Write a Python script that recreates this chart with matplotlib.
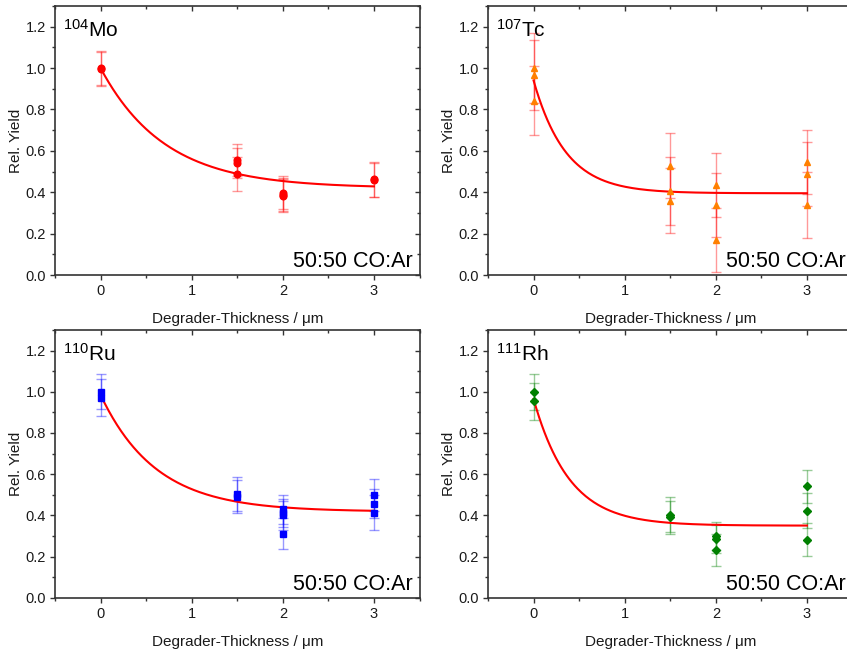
import numpy as np
import matplotlib
matplotlib.use('Agg')
import matplotlib.pyplot as plt
from matplotlib.ticker import MultipleLocator, FormatStrFormatter

plt.rcParams['font.family'] = ['Liberation Sans', 'DejaVu Sans']
plt.rcParams['mathtext.fontset'] = 'custom'
plt.rcParams['mathtext.rm'] = 'Liberation Sans'
plt.rcParams['mathtext.it'] = 'Liberation Sans:italic'

# Measured relative yields (x = degrader thickness in um)
mo_x = [0, 0, 1.5, 1.5, 1.5, 2, 2, 2, 3, 3]
mo_y = [1.0, 0.995, 0.557, 0.541, 0.488, 0.398, 0.388, 0.383, 0.462, 0.458]
mo_err = [0.083, 0.083, 0.077, 0.072, 0.083, 0.08, 0.08, 0.08, 0.083, 0.083]

tc_x = [0, 0, 0, 1.5, 1.5, 1.5, 2, 2, 2, 3, 3, 3]
tc_y = [1.0, 0.968, 0.843, 0.529, 0.407, 0.36, 0.434, 0.34, 0.17, 0.546, 0.489, 0.338]
tc_err = [0.17, 0.17, 0.168, 0.158, 0.163, 0.155, 0.155, 0.155, 0.155, 0.155, 0.155, 0.16]

ru_x = [0, 0, 1.5, 1.5, 2, 2, 2, 2, 3, 3, 3]
ru_y = [1.0, 0.97, 0.502, 0.49, 0.43, 0.413, 0.40, 0.31, 0.497, 0.457, 0.413]
ru_err = [0.085, 0.09, 0.083, 0.08, 0.07, 0.068, 0.07, 0.075, 0.078, 0.072, 0.084]

rh_x = [0, 0, 1.5, 1.5, 2, 2, 2, 3, 3, 3]
rh_y = [1.0, 0.954, 0.402, 0.39, 0.30, 0.285, 0.232, 0.541, 0.423, 0.282]
rh_err = [0.088, 0.09, 0.085, 0.08, 0.066, 0.07, 0.078, 0.08, 0.085, 0.08]

# Exponential fit parameters: y = y0 + A * exp(-x / t)
mo_fit = (0.42, 0.58, 0.705)
tc_fit = (0.395, 0.545, 0.352)
ru_fit = (0.418, 0.567, 0.607)
rh_fit = (0.35, 0.615, 0.392)

panels = [
    (mo_x, mo_y, mo_err, mo_fit, '104', 'Mo', 'o', '#ff0000', '#ff0000', 4.8),
    (tc_x, tc_y, tc_err, tc_fit, '107', 'Tc', '^', '#ff8000', '#ff0000', 5.0),
    (ru_x, ru_y, ru_err, ru_fit, '110', 'Ru', 's', '#0000ff', '#0000ff', 4.2),
    (rh_x, rh_y, rh_err, rh_fit, '111', 'Rh', 'D', '#008000', '#008000', 4.0),
]

W, H = 847, 650
fig = plt.figure(figsize=(W / 100, H / 100), dpi=100)

# axes boxes in pixels: left, top, right, bottom
boxes = [(55, 6, 419.5, 275), (488, 6, 852.5, 275),
         (55, 330, 419.5, 597.7), (488, 330, 852.5, 597.7)]

xfit = np.linspace(0, 3, 200)
spine_col = '#333333'
txt_col = '#1a1a1a'

for i, (box, (x, y, err, fit, mass, elem, mk, col, ecol, ms)) in enumerate(zip(boxes, panels)):
    l, t, r, b = box
    ax = fig.add_axes([l / W, 1 - b / H, (r - l) / W, (b - t) / H])

    ax.errorbar(x, y, yerr=err, fmt='none', ecolor=ecol, alpha=0.4,
                elinewidth=1.0, capsize=3.5, capthick=1.0, zorder=2)
    ax.plot(x, y, mk, color=col, markersize=ms, linestyle='none', zorder=4)

    y0, A, tau = fit
    ax.plot(xfit, y0 + A * np.exp(-xfit / tau), color='#ff0000', lw=1.5, zorder=3)

    ax.set_xlim(-0.5, 3.5)
    ax.set_ylim(0, 1.3)
    ax.xaxis.set_major_locator(MultipleLocator(1))
    ax.xaxis.set_minor_locator(MultipleLocator(0.5))
    ax.yaxis.set_major_locator(MultipleLocator(0.2))
    ax.yaxis.set_minor_locator(MultipleLocator(0.1))
    ax.yaxis.set_major_formatter(FormatStrFormatter('%.1f'))

    ax.tick_params(which='major', direction='out', length=3.5, width=1,
                   color=spine_col, labelsize=10.5, labelcolor=txt_col, pad=3)
    ax.tick_params(which='minor', direction='out', length=2.2, width=1, color=spine_col)
    for s in ax.spines.values():
        s.set_color(spine_col)
        s.set_linewidth(1.2)

    # inward ticks on top and right
    top = ax.secondary_xaxis('top')
    top.xaxis.set_major_locator(MultipleLocator(1))
    top.xaxis.set_minor_locator(MultipleLocator(0.5))
    top.tick_params(which='major', direction='in', length=3.5, width=1, color=spine_col, labeltop=False)
    top.tick_params(which='minor', direction='in', length=2.2, width=1, color=spine_col)
    top.spines['top'].set_visible(False)
    if i % 2 == 0:
        right = ax.secondary_yaxis('right')
        right.yaxis.set_major_locator(MultipleLocator(0.2))
        right.yaxis.set_minor_locator(MultipleLocator(0.1))
        right.tick_params(which='major', direction='in', length=3.5, width=1, color=spine_col, labelright=False)
        right.tick_params(which='minor', direction='in', length=2.2, width=1, color=spine_col)
        right.spines['right'].set_visible(False)

    ax.set_xlabel('Degrader-Thickness / \u03bcm', fontsize=11, labelpad=10, color=txt_col)
    ax.set_ylabel('Rel. Yield', fontsize=11, labelpad=1.5, color=txt_col)

    ax.text(8 / (r - l), 1 - 31 / (b - t), r'$^{%s}$%s' % (mass, elem),
            transform=ax.transAxes, fontsize=15, ha='left', va='baseline', color='black')
    ax.text(1 - 6.5 / 364, 8 / (b - t), '50:50 CO:Ar', transform=ax.transAxes,
            fontsize=15.5, ha='right', va='baseline', color='black')

fig.savefig('out.png', dpi=100)
